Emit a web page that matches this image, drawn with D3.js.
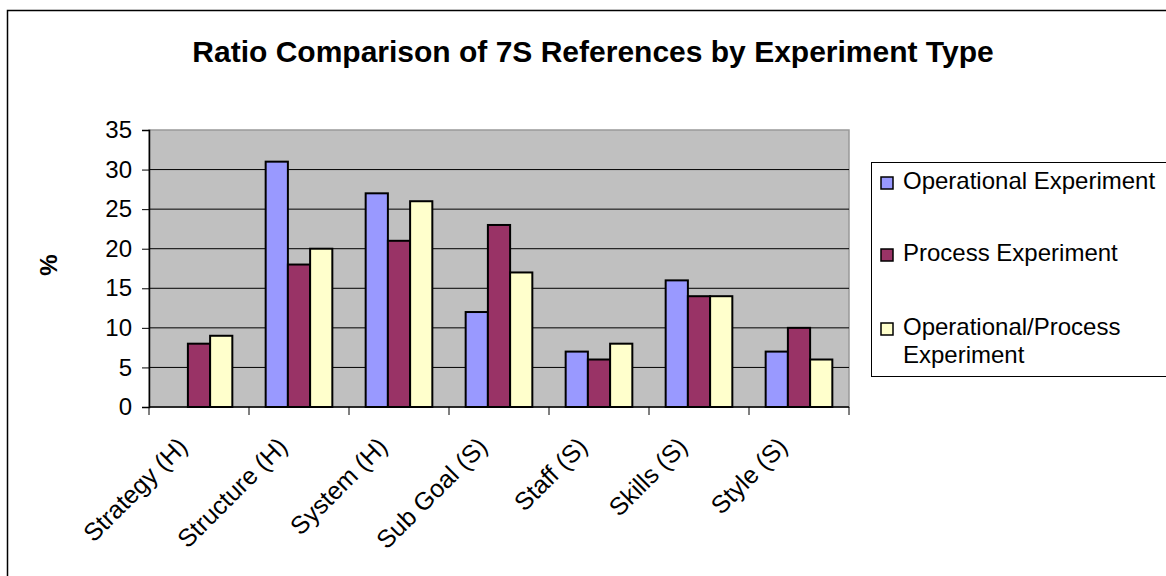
<!DOCTYPE html>
<html>
<head>
<meta charset="UTF-8">
<title>Ratio Comparison of 7S References by Experiment Type</title>
<style>
  body { margin: 0; background: #fff; }
  text { font-family: "Liberation Sans", Arial, sans-serif; fill: #000; }
</style>
</head>
<body>
<script src="https://cdn.jsdelivr.net/npm/d3@7/dist/d3.min.js"></script>
<script>
// data
var categories = ["Strategy (H)", "Structure (H)", "System (H)", "Sub Goal (S)", "Staff (S)", "Skills (S)", "Style (S)"];
var seriesNames = ["Operational Experiment", "Process Experiment", "Operational/Process Experiment"];
var operational = [0, 31, 27, 12, 7, 16, 7];
var process = [8, 18, 21, 23, 6, 14, 10];
var opProcess = [9, 20, 26, 17, 8, 14, 6];
var yTicks = [0, 5, 10, 15, 20, 25, 30, 35];
var colors = ["#9999FF", "#993366", "#FFFFCC"];

var seriesValues = [operational, process, opProcess];

var width = 1166, height = 576;
var svg = d3.select("body").append("svg")
    .attr("width", width)
    .attr("height", height);

// outer chart frame
svg.append("rect")
    .attr("x", 7.5).attr("y", 10.5)
    .attr("width", 1200).attr("height", 600)
    .attr("fill", "#fff").attr("stroke", "#000").attr("stroke-width", 1.5);

// plot area
var plotLeft = 149, plotRight = 849, plotTop = 130, plotBottom = 407;

var x0 = d3.scaleBand().domain(categories).range([plotLeft, plotRight]).paddingInner(0).paddingOuter(0);
var x1 = d3.scaleBand().domain(d3.range(3)).range([0, x0.bandwidth()]).paddingInner(0).paddingOuter(0.75);
var y = d3.scaleLinear().domain([0, 35]).range([plotBottom, plotTop]);

svg.append("rect")
    .attr("x", plotLeft).attr("y", plotTop)
    .attr("width", plotRight - plotLeft).attr("height", plotBottom - plotTop)
    .attr("fill", "#C0C0C0")
    .attr("stroke", "#999").attr("stroke-width", 1.5);

// gridlines
svg.append("g").selectAll("line")
    .data(yTicks.filter(function(d){ return d > 0 && d < 35; }))
    .enter().append("line")
    .attr("x1", plotLeft).attr("x2", plotRight)
    .attr("y1", function(d){ return y(d); })
    .attr("y2", function(d){ return y(d); })
    .attr("stroke", "#000").attr("stroke-width", 1);

// bars
var groups = svg.append("g").selectAll("g")
    .data(categories)
    .enter().append("g")
    .attr("transform", function(d){ return "translate(" + x0(d) + ",0)"; });

groups.selectAll("rect")
    .data(function(d, i){ return seriesValues.map(function(s, j){ return {s: j, v: s[i]}; }); })
    .enter().append("rect")
    .attr("x", function(d){ return x1(d.s); })
    .attr("width", x1.bandwidth())
    .attr("y", function(d){ return y(d.v); })
    .attr("height", function(d){ return y(0) - y(d.v); })
    .attr("fill", function(d){ return colors[d.s]; })
    .attr("stroke", function(d){ return d.v > 0 ? "#000" : "none"; })
    .attr("stroke-width", 2);

// y axis
var yAxis = d3.axisLeft(y).tickValues(yTicks).tickSize(7).tickPadding(10);
var gy = svg.append("g").attr("transform", "translate(" + plotLeft + ",0)").call(yAxis);
gy.select(".domain").attr("stroke", "#000").attr("stroke-width", 1.5);
gy.selectAll(".tick line").attr("stroke", "#000");
gy.selectAll(".tick text")
    .attr("font-family", "Liberation Sans, Arial, sans-serif")
    .attr("font-size", 24).attr("fill", "#000");

// x axis with ticks between categories
var gx = svg.append("g").attr("transform", "translate(0," + plotBottom + ")");
gx.append("line").attr("x1", plotLeft).attr("x2", plotRight).attr("stroke", "#000").attr("stroke-width", 1.5);
gx.selectAll(".xt")
    .data(d3.range(categories.length + 1))
    .enter().append("line")
    .attr("class", "xt")
    .attr("x1", function(i){ return plotLeft + i * x0.step(); })
    .attr("x2", function(i){ return plotLeft + i * x0.step(); })
    .attr("y1", 0).attr("y2", 8)
    .attr("stroke", "#000");

// rotated category labels
svg.append("g").selectAll("text")
    .data(categories)
    .enter().append("text")
    .attr("transform", function(d){
        var cx = x0(d) + x0.bandwidth() / 2;
        return "translate(" + (cx - 10) + "," + 448 + ") rotate(-45)";
    })
    .attr("text-anchor", "end")
    .attr("font-size", 25)
    .text(function(d){ return d; });

// y title
svg.append("text")
    .attr("transform", "translate(57,265) rotate(-90)")
    .attr("text-anchor", "middle")
    .attr("font-size", 24).attr("font-weight", "bold")
    .text("%");

// chart title
svg.append("text")
    .attr("x", 593).attr("y", 62)
    .attr("text-anchor", "middle")
    .attr("font-size", 30).attr("font-weight", "bold")
    .text("Ratio Comparison of 7S References by Experiment Type");

// legend
var legend = svg.append("g");
legend.append("rect")
    .attr("x", 871.5).attr("y", 162.5)
    .attr("width", 320).attr("height", 214)
    .attr("fill", "#fff").attr("stroke", "#000").attr("stroke-width", 1);

var legendRows = [
    {lines: ["Operational Experiment"], base: 189},
    {lines: ["Process Experiment"], base: 261},
    {lines: ["Operational/Process", "Experiment"], base: 335}
];
legendRows.forEach(function(r, i){
    legend.append("rect")
        .attr("x", 881).attr("y", r.base - 12)
        .attr("width", 12).attr("height", 12)
        .attr("fill", colors[i]).attr("stroke", "#000").attr("stroke-width", 1.5);
    var t = legend.append("text")
        .attr("x", 903).attr("y", r.base)
        .attr("font-size", 24);
    r.lines.forEach(function(line, k){
        t.append("tspan").attr("x", 903).attr("dy", k === 0 ? 0 : 28).text(line);
    });
});
</script>
</body>
</html>
